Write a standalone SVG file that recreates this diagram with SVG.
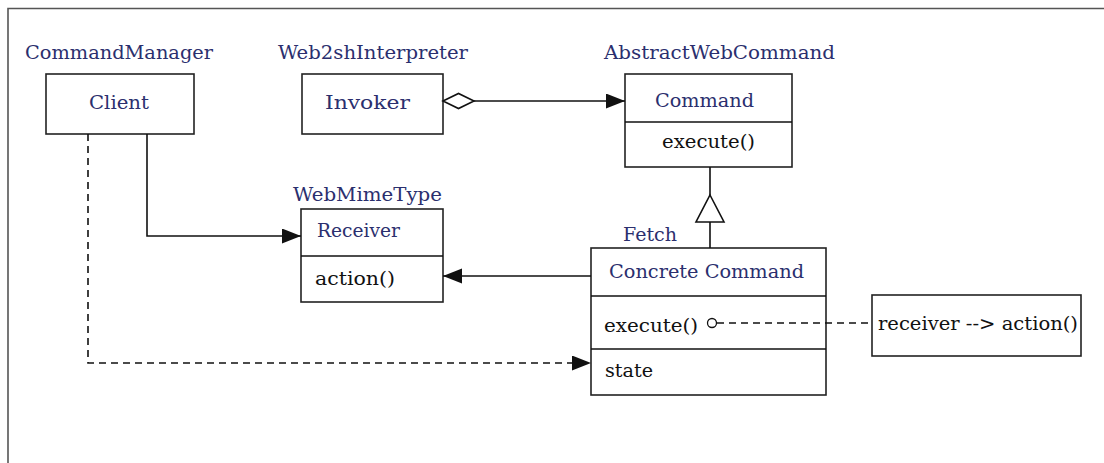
<svg xmlns="http://www.w3.org/2000/svg" width="1104" height="463" viewBox="0 0 1104 463">
<style>
text{font-family:"DejaVu Serif","Liberation Serif",serif;font-size:18px}
.lbl{fill:#2b2f6e}
.blk{fill:#111}
.box{fill:#fff;stroke:#222;stroke-width:1.6}
.ln{fill:none;stroke:#111;stroke-width:1.6}
.dash{fill:none;stroke:#111;stroke-width:1.6;stroke-dasharray:7,5}
</style>
<defs>
<marker id="arr" markerWidth="20" markerHeight="16" refX="19" refY="7.5" orient="auto" markerUnits="userSpaceOnUse">
<path d="M0,0 L19,7.5 L0,15 Z" fill="#111"/>
</marker>
</defs>
<rect width="1104" height="463" fill="#fff"/>
<path d="M8,463 V8.5 H1104" fill="none" stroke="#555" stroke-width="1.6"/>

<g id="client">
<text class="lbl" x="25" y="59" textLength="188" lengthAdjust="spacingAndGlyphs">CommandManager</text>
<rect class="box" x="46" y="74" width="148" height="60"/>
<text class="lbl" x="89" y="109" textLength="60" lengthAdjust="spacingAndGlyphs">Client</text>
</g>

<g id="invoker">
<text class="lbl" x="278" y="59" textLength="190" lengthAdjust="spacingAndGlyphs">Web2shInterpreter</text>
<rect class="box" x="302" y="74" width="141" height="60"/>
<text class="lbl" x="325" y="109" textLength="85" lengthAdjust="spacingAndGlyphs">Invoker</text>
</g>

<g id="command">
<text class="lbl" x="604" y="59" textLength="231" lengthAdjust="spacingAndGlyphs">AbstractWebCommand</text>
<rect class="box" x="625" y="74" width="167" height="93"/>
<line class="ln" x1="625" y1="122" x2="792" y2="122"/>
<text class="lbl" x="655" y="107" textLength="99" lengthAdjust="spacingAndGlyphs">Command</text>
<text class="blk" x="662" y="148" textLength="93" lengthAdjust="spacingAndGlyphs">execute()</text>
</g>

<g id="receiver">
<text class="lbl" x="293" y="201" textLength="149" lengthAdjust="spacingAndGlyphs">WebMimeType</text>
<rect class="box" x="301" y="209" width="142" height="93"/>
<line class="ln" x1="301" y1="256" x2="443" y2="256"/>
<text class="lbl" x="317" y="237" textLength="83" lengthAdjust="spacingAndGlyphs">Receiver</text>
<text class="blk" x="315" y="285" textLength="80" lengthAdjust="spacingAndGlyphs">action()</text>
</g>

<g id="concrete">
<text class="lbl" x="623" y="241" textLength="54" lengthAdjust="spacingAndGlyphs">Fetch</text>
<rect class="box" x="591" y="248" width="235" height="147"/>
<line class="ln" x1="591" y1="296" x2="826" y2="296"/>
<line class="ln" x1="591" y1="349" x2="826" y2="349"/>
<text class="lbl" x="609" y="278" textLength="195" lengthAdjust="spacingAndGlyphs">Concrete Command</text>
<text class="blk" x="604" y="332" textLength="94" lengthAdjust="spacingAndGlyphs">execute()</text>
<text class="blk" x="605" y="377" textLength="48" lengthAdjust="spacingAndGlyphs">state</text>
</g>

<g id="note">
<rect class="box" x="872" y="295" width="209" height="61"/>
<text class="blk" x="878" y="330" textLength="200" lengthAdjust="spacingAndGlyphs">receiver --&gt; action()</text>
</g>

<g id="connectors">
<path class="ln" d="M474,101 H625" marker-end="url(#arr)"/>
<path d="M443,101 L458.5,93.5 L474,101 L458.5,108.5 Z" fill="#fff" stroke="#111" stroke-width="1.6"/>
<path class="ln" d="M710,167 V195 M710,222 V248"/>
<path d="M710,195 L724,222 L696,222 Z" fill="#fff" stroke="#111" stroke-width="1.6"/>
<path class="ln" d="M147,134 V236 H301" marker-end="url(#arr)"/>
<path class="ln" d="M591,276 H443" marker-end="url(#arr)"/>
<path class="dash" d="M88,134 V363 H591" marker-end="url(#arr)"/>
<path class="dash" d="M717,323 H872"/>
<circle cx="712" cy="323" r="4.5" fill="#fff" stroke="#111" stroke-width="1.3"/>
</g>
</svg>
